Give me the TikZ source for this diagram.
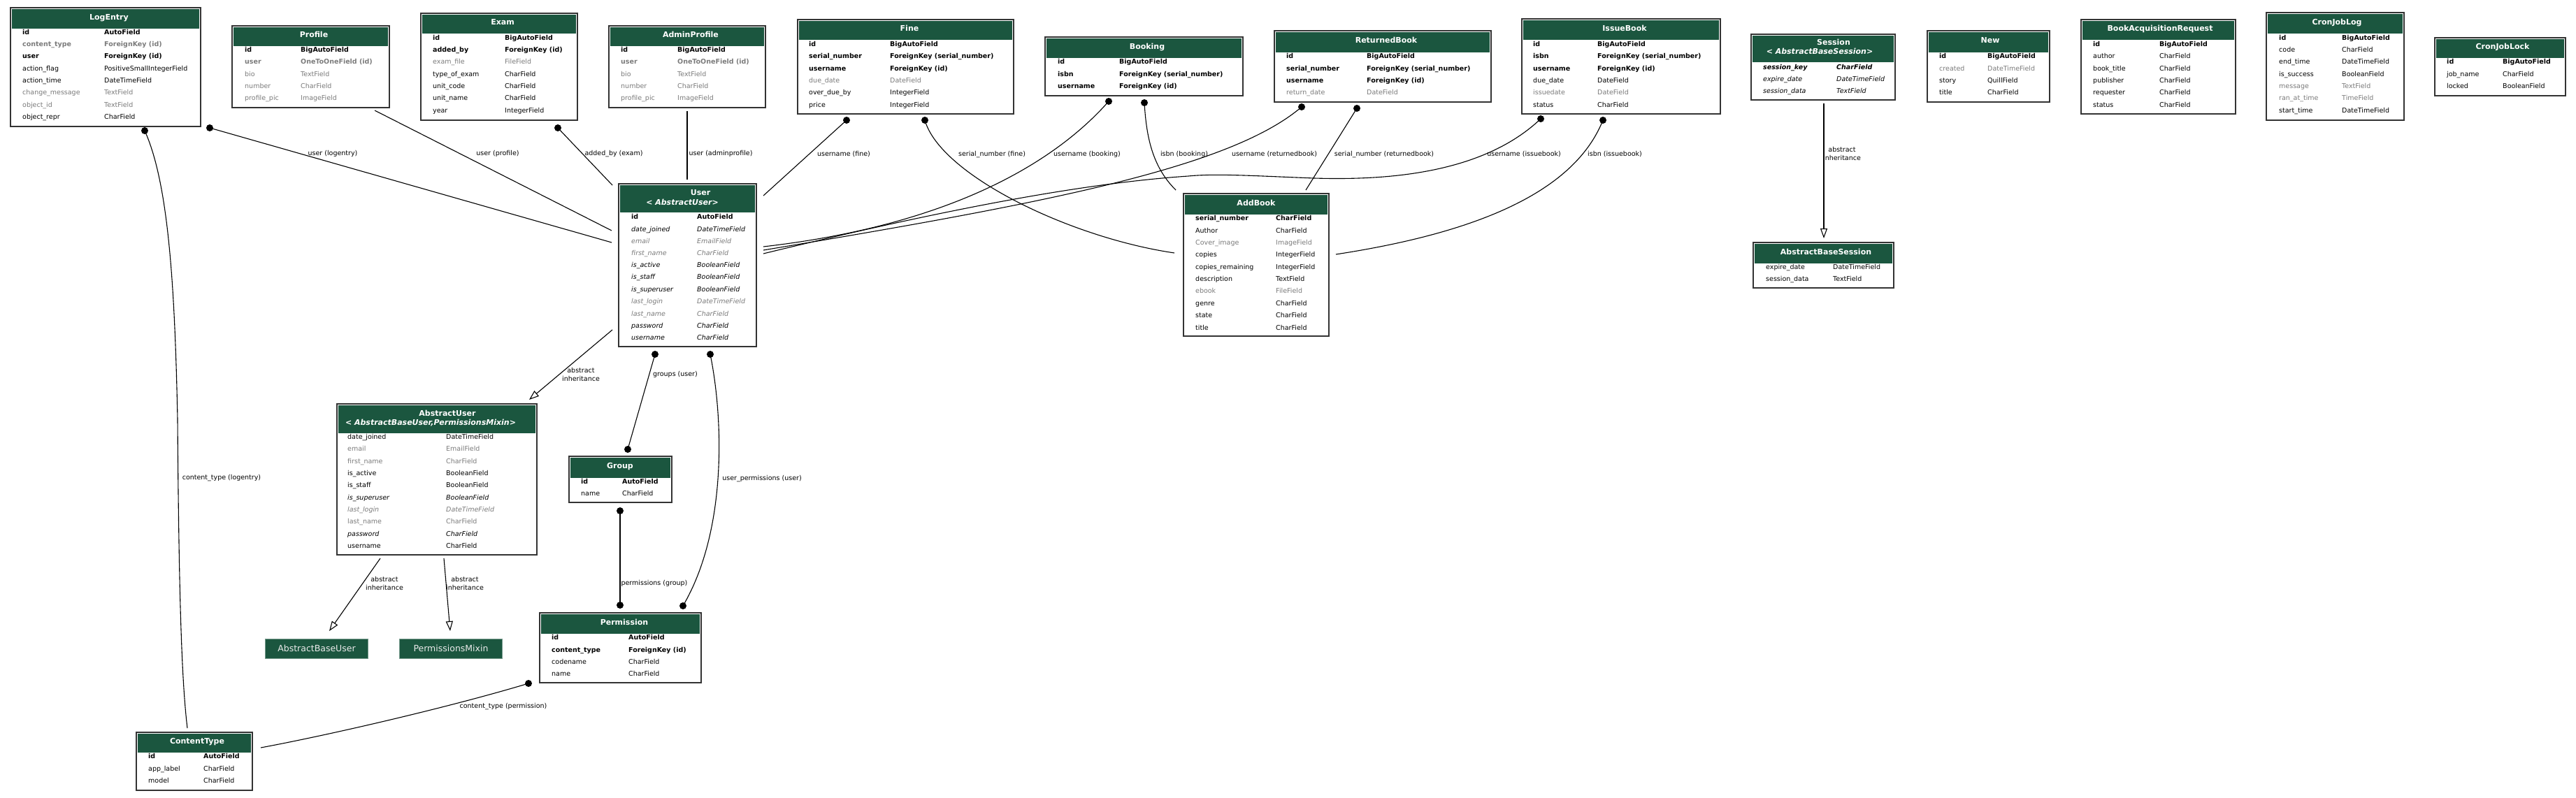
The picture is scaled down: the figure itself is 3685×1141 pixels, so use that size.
\documentclass[tikz,border=0pt]{standalone}
\usepackage{fontspec}
\setmainfont{DejaVu Sans}
\usetikzlibrary{arrows.meta,fit}
\definecolor{hdrgreen}{HTML}{1B563F}
\definecolor{fgray}{HTML}{7B7B7B}
\definecolor{bordc}{HTML}{333333}
\newcounter{rc}
\newcommand\fsz{\fontsize{9.5}{12}\selectfont}
\newcommand\tsz{\fontsize{11}{13}\selectfont}
\tikzset{
 tblbox/.style={draw=bordc, line width=1.8pt, fill=white, inner sep=0pt, rectangle},
 hdrfill/.style={fill=hdrgreen},
 fld/.style={anchor=mid west, inner sep=0pt, font=\fsz, text=black},
 fn/.style={},
 fb/.style={font=\fsz\bfseries},
 fg/.style={text=fgray},
 fbg/.style={font=\fsz\bfseries, text=fgray},
 fi/.style={font=\fsz\itshape},
 fig/.style={font=\fsz\itshape, text=fgray},
 fbi/.style={font=\fsz\bfseries\itshape},
 ttl/.style={anchor=mid, inner sep=0pt, font=\tsz\bfseries, text=white},
 ttli/.style={anchor=mid, inner sep=0pt, font=\tsz\bfseries\itshape, text=white},
 conn/.style={draw=black, line width=1.1pt},
 inh/.style={conn, -{Triangle[open, length=14pt, width=10pt, line width=1.1pt]}},
 elab/.style={inner sep=0pt, font=\fsz, align=center, anchor=center},
 absbox/.style={fill=hdrgreen, draw=hdrgreen!60!white, line width=0.8pt, minimum width=147pt, minimum height=28pt, inner sep=0pt, text=white!92!black, font=\fontsize{12.5}{14}\selectfont},
}
\newcommand\tbl[6]{%
 \node[tblbox, fit={(#2,#3) (#4,#5)}] (#1) {};
 \fill[hdrfill] (#2+1.6,#3+1.6) rectangle (#4-1.6,#6);}
\newcommand\fr[6]{%
 \stepcounter{rc}\edef\rcn{\arabic{rc}}%
 \node[fld,#4] (ra\rcn) at (#1,#3) {#5};
 \node[fld,#4] (rb\rcn) at (#2,#3) {#6};}
\newcommand\dotat[1]{\fill (#1) circle[radius=5pt];}
\begin{document}
\begin{tikzpicture}[x=1pt,y=-1pt]
\useasboundingbox (0,0) rectangle (3685,1141);
\fill[white] (0,0) rectangle (3685,1141);

% ---------- connector end points ----------
\coordinate (le1) at (300,183);  \coordinate (us1) at (875,347);
\coordinate (le2) at (207,187);  \coordinate (ct1) at (268,1042);
\coordinate (pr1) at (536,158);  \coordinate (us2) at (875,330);
\coordinate (ex1) at (798,183);  \coordinate (us3) at (876,265);
\coordinate (ap1) at (983,159);  \coordinate (us4) at (983,257);
\coordinate (fi1) at (1211,172); \coordinate (us5) at (1092,280);
\coordinate (fi2) at (1323,172); \coordinate (ab1) at (1680,362);
\coordinate (bo1) at (1586,145); \coordinate (us6) at (1092,353);
\coordinate (bo2) at (1637,147); \coordinate (ab2) at (1682,272);
\coordinate (rb1) at (1862,153); \coordinate (us7) at (1092,358);
\coordinate (rb2) at (1941,155); \coordinate (ab3) at (1868,272);
\coordinate (ib1) at (2204,170); \coordinate (us8) at (1092,363);
\coordinate (ib2) at (2293,172); \coordinate (ab4) at (1911,364);
\coordinate (us9) at (876,472);  \coordinate (au1) at (757,572);
\coordinate (us10) at (937,507); \coordinate (gr1) at (898,643);
\coordinate (us11) at (1016,507);\coordinate (pe1) at (977,867);
\coordinate (gr2) at (887,731);  \coordinate (pe2) at (887,866);
\coordinate (pe3) at (756,978);  \coordinate (ct2) at (373,1070);
\coordinate (au2) at (544,799);  \coordinate (abu1) at (471,903);
\coordinate (au3) at (635,799);  \coordinate (pm1) at (644,903);
\coordinate (se1) at (2609,148); \coordinate (abs1) at (2609,341);

% ---------- connectors ----------
\draw[conn] (le1) -- (us1);
\draw[conn] (le2) .. controls (240,260) and (250,400) .. (254,600) .. controls (256,860) and (260,975) .. (ct1);
\draw[conn] (pr1) -- (us2);
\draw[conn] (ex1) -- (us3);
\draw[conn] (ap1) -- (us4);
\draw[conn] (fi1) -- (us5);
\draw[conn] (fi2) .. controls (1345,250) and (1530,340) .. (ab1);
\draw[conn] (bo1) .. controls (1520,220) and (1380,320) .. (us6);
\draw[conn] (bo2) .. controls (1640,200) and (1650,240) .. (ab2);
\draw[conn] (rb1) .. controls (1760,240) and (1500,290) .. (us7);
\draw[conn] (rb2) -- (ab3);
\draw[conn] (ib1) .. controls (2120,250) and (1980,258) .. (1880,255) .. controls (1800,252) and (1740,248) .. (1700,252) .. controls (1550,262) and (1350,300) .. (us8);
\draw[conn] (ib2) .. controls (2250,280) and (2100,335) .. (ab4);
\draw[inh] (us9) -- (au1);
\draw[conn] (us10) -- (gr1);
\draw[conn] (us11) .. controls (1035,600) and (1040,760) .. (pe1);
\draw[conn] (gr2) -- (pe2);
\draw[conn] (pe3) .. controls (650,1010) and (480,1050) .. (ct2);
\draw[inh] (au2) -- (abu1);
\draw[inh] (au3) -- (pm1);
\draw[inh] (se1) -- (abs1);
\dotat{le1}\dotat{le2}\dotat{ex1}\dotat{fi1}\dotat{fi2}\dotat{bo1}\dotat{bo2}
\dotat{rb1}\dotat{rb2}\dotat{ib1}\dotat{ib2}\dotat{us10}\dotat{us11}\dotat{gr1}
\dotat{gr2}\dotat{pe1}\dotat{pe2}\dotat{pe3}

% ---------- connector labels ----------
\node[elab] (l1) at (476,220) {user (logentry)};
\node[elab] (l2) at (712,220) {user (profile)};
\node[elab] (l3) at (878,220) {added\_by (exam)};
\node[elab] (l4) at (1031,220) {user (adminprofile)};
\node[elab] (l5) at (1207,221) {username (fine)};
\node[elab] (l6) at (1419,221) {serial\_number (fine)};
\node[elab] (l7) at (1555,221) {username (booking)};
\node[elab] (l8) at (1694,221) {isbn (booking)};
\node[elab] (l9) at (1823,221) {username (returnedbook)};
\node[elab] (l10) at (1980,221) {serial\_number (returnedbook)};
\node[elab] (l11) at (2180,221) {username (issuebook)};
\node[elab] (l12) at (2310,221) {isbn (issuebook)};
\node[elab] (l13) at (2635,220) {abstract\\inheritance};
\node[elab] (l14) at (831,536) {abstract\\inheritance};
\node[elab] (l15) at (966,536) {groups (user)};
\node[elab] (l16) at (1090,685) {user\_permissions (user)};
\node[elab] (l17) at (317,684) {content\_type (logentry)};
\node[elab] (l18) at (550,835) {abstract\\inheritance};
\node[elab] (l19) at (665,835) {abstract\\inheritance};
\node[elab] (l20) at (936,835) {permissions (group)};
\node[elab] (l21) at (720,1011) {content\_type (permission)};

% ---------- LogEntry ----------
\tbl{logentry}{15}{11}{287}{181}{41}
\node[ttl] (tlogentry) at (156,26) {LogEntry};
\fr{32}{149}{47}{fb}{id}{AutoField}
\fr{32}{149}{64}{fbg}{content\_type}{ForeignKey (id)}
\fr{32}{149}{81}{fb}{user}{ForeignKey (id)}
\fr{32}{149}{99}{fn}{action\_flag}{PositiveSmallIntegerField}
\fr{32}{149}{116}{fn}{action\_time}{DateTimeField}
\fr{32}{149}{133}{fg}{change\_message}{TextField}
\fr{32}{149}{151}{fg}{object\_id}{TextField}
\fr{32}{149}{168}{fn}{object\_repr}{CharField}

% ---------- Profile ----------
\tbl{profile}{332}{37}{557}{154}{66}
\node[ttl] (tprofile) at (449,51) {Profile};
\fr{350}{430}{72}{fb}{id}{BigAutoField}
\fr{350}{430}{89}{fbg}{user}{OneToOneField (id)}
\fr{350}{430}{107}{fg}{bio}{TextField}
\fr{350}{430}{124}{fg}{number}{CharField}
\fr{350}{430}{141}{fg}{profile\_pic}{ImageField}

% ---------- Exam ----------
\tbl{exam}{602}{19}{826}{172}{48}
\node[ttl] (texam) at (719,33) {Exam};
\fr{619}{722}{55}{fb}{id}{BigAutoField}
\fr{619}{722}{72}{fb}{added\_by}{ForeignKey (id)}
\fr{619}{722}{89}{fg}{exam\_file}{FileField}
\fr{619}{722}{107}{fn}{type\_of\_exam}{CharField}
\fr{619}{722}{124}{fn}{unit\_code}{CharField}
\fr{619}{722}{141}{fn}{unit\_name}{CharField}
\fr{619}{722}{159}{fn}{year}{IntegerField}

% ---------- AdminProfile ----------
\tbl{adminprofile}{871}{37}{1095}{154}{66}
\node[ttl] (tadminprofile) at (988,51) {AdminProfile};
\fr{888}{969}{72}{fb}{id}{BigAutoField}
\fr{888}{969}{89}{fbg}{user}{OneToOneField (id)}
\fr{888}{969}{107}{fg}{bio}{TextField}
\fr{888}{969}{124}{fg}{number}{CharField}
\fr{888}{969}{141}{fg}{profile\_pic}{ImageField}

% ---------- Fine ----------
\tbl{fine}{1141}{28}{1450}{163}{57}
\node[ttl] (tfine) at (1301,42) {Fine};
\fr{1157}{1273}{64}{fb}{id}{BigAutoField}
\fr{1157}{1273}{81}{fb}{serial\_number}{ForeignKey (serial\_number)}
\fr{1157}{1273}{99}{fb}{username}{ForeignKey (id)}
\fr{1157}{1273}{116}{fg}{due\_date}{DateField}
\fr{1157}{1273}{133}{fn}{over\_due\_by}{IntegerField}
\fr{1157}{1273}{151}{fn}{price}{IntegerField}

% ---------- Booking ----------
\tbl{booking}{1495}{53}{1778}{137}{83}
\node[ttl] (tbooking) at (1641,68) {Booking};
\fr{1513}{1601}{89}{fb}{id}{BigAutoField}
\fr{1513}{1601}{107}{fb}{isbn}{ForeignKey (serial\_number)}
\fr{1513}{1601}{124}{fb}{username}{ForeignKey (id)}

% ---------- ReturnedBook ----------
\tbl{returnedbook}{1823}{44}{2133}{146}{75}
\node[ttl] (treturnedbook) at (1983,59) {ReturnedBook};
\fr{1840}{1955}{81}{fb}{id}{BigAutoField}
\fr{1840}{1955}{99}{fb}{serial\_number}{ForeignKey (serial\_number)}
\fr{1840}{1955}{116}{fb}{username}{ForeignKey (id)}
\fr{1840}{1955}{133}{fg}{return\_date}{DateField}

% ---------- IssueBook ----------
\tbl{issuebook}{2177}{27}{2461}{163}{57}
\node[ttl] (tissuebook) at (2324,42) {IssueBook};
\fr{2193}{2285}{64}{fb}{id}{BigAutoField}
\fr{2193}{2285}{81}{fb}{isbn}{ForeignKey (serial\_number)}
\fr{2193}{2285}{99}{fb}{username}{ForeignKey (id)}
\fr{2193}{2285}{116}{fn}{due\_date}{DateField}
\fr{2193}{2285}{133}{fg}{issuedate}{DateField}
\fr{2193}{2285}{151}{fn}{status}{CharField}

% ---------- Session ----------
\tbl{session}{2505}{49}{2711}{143}{89}
\node[ttl] (tsession) at (2623,62) {Session};
\node[ttli] (tsession2) at (2603,75) {< AbstractBaseSession>};
\fr{2522}{2627}{97}{fbi}{session\_key}{CharField}
\fr{2522}{2627}{114}{fi}{expire\_date}{DateTimeField}
\fr{2522}{2627}{131}{fi}{session\_data}{TextField}

% ---------- New ----------
\tbl{new}{2757}{44}{2932}{146}{75}
\node[ttl] (tnew) at (2847,59) {New};
\fr{2774}{2843}{81}{fb}{id}{BigAutoField}
\fr{2774}{2843}{99}{fg}{created}{DateTimeField}
\fr{2774}{2843}{116}{fn}{story}{QuillField}
\fr{2774}{2843}{133}{fn}{title}{CharField}

% ---------- BookAcquisitionRequest ----------
\tbl{bookacq}{2977}{28}{3198}{163}{57}
\node[ttl] (tbookacq) at (3090,42) {BookAcquisitionRequest};
\fr{2994}{3089}{64}{fb}{id}{BigAutoField}
\fr{2994}{3089}{81}{fn}{author}{CharField}
\fr{2994}{3089}{99}{fn}{book\_title}{CharField}
\fr{2994}{3089}{116}{fn}{publisher}{CharField}
\fr{2994}{3089}{133}{fn}{requester}{CharField}
\fr{2994}{3089}{151}{fn}{status}{CharField}

% ---------- CronJobLog ----------
\tbl{cronjoblog}{3242}{18}{3439}{172}{48}
\node[ttl] (tcronjoblog) at (3343,33) {CronJobLog};
\fr{3260}{3350}{55}{fb}{id}{BigAutoField}
\fr{3260}{3350}{72}{fn}{code}{CharField}
\fr{3260}{3350}{89}{fn}{end\_time}{DateTimeField}
\fr{3260}{3350}{107}{fn}{is\_success}{BooleanField}
\fr{3260}{3350}{124}{fg}{message}{TextField}
\fr{3260}{3350}{141}{fg}{ran\_at\_time}{TimeField}
\fr{3260}{3350}{159}{fn}{start\_time}{DateTimeField}

% ---------- CronJobLock ----------
\tbl{cronjoblock}{3483}{54}{3670}{137}{83}
\node[ttl] (tcronjoblock) at (3580,68) {CronJobLock};
\fr{3500}{3580}{89}{fb}{id}{BigAutoField}
\fr{3500}{3580}{107}{fn}{job\_name}{CharField}
\fr{3500}{3580}{124}{fn}{locked}{BooleanField}

% ---------- User ----------
\tbl{user}{885}{263}{1082}{496}{304}
\node[ttl] (tuser) at (1002,277) {User};
\node[ttli] (tuser2) at (976,291) {< AbstractUser>};
\fr{903}{997}{311}{fb}{id}{AutoField}
\fr{903}{997}{329}{fi}{date\_joined}{DateTimeField}
\fr{903}{997}{346}{fig}{email}{EmailField}
\fr{903}{997}{363}{fig}{first\_name}{CharField}
\fr{903}{997}{380}{fi}{is\_active}{BooleanField}
\fr{903}{997}{397}{fi}{is\_staff}{BooleanField}
\fr{903}{997}{415}{fi}{is\_superuser}{BooleanField}
\fr{903}{997}{432}{fig}{last\_login}{DateTimeField}
\fr{903}{997}{450}{fig}{last\_name}{CharField}
\fr{903}{997}{467}{fi}{password}{CharField}
\fr{903}{997}{484}{fi}{username}{CharField}

% ---------- AddBook ----------
\tbl{addbook}{1693}{277}{1901}{481}{307}
\node[ttl] (taddbook) at (1797,292) {AddBook};
\fr{1710}{1825}{313}{fb}{serial\_number}{CharField}
\fr{1710}{1825}{331}{fn}{Author}{CharField}
\fr{1710}{1825}{348}{fg}{Cover\_image}{ImageField}
\fr{1710}{1825}{365}{fn}{copies}{IntegerField}
\fr{1710}{1825}{383}{fn}{copies\_remaining}{IntegerField}
\fr{1710}{1825}{400}{fn}{description}{TextField}
\fr{1710}{1825}{417}{fg}{ebook}{FileField}
\fr{1710}{1825}{435}{fn}{genre}{CharField}
\fr{1710}{1825}{452}{fn}{state}{CharField}
\fr{1710}{1825}{470}{fn}{title}{CharField}

% ---------- AbstractUser ----------
\tbl{abstractuser}{482}{578}{768}{794}{620}
\node[ttl] (tabstractuser) at (640,593) {AbstractUser};
\node[ttli] (tabstractuser2) at (616,606) {< AbstractBaseUser,PermissionsMixin>};
\fr{497}{638}{626}{fn}{date\_joined}{DateTimeField}
\fr{497}{638}{643}{fg}{email}{EmailField}
\fr{497}{638}{661}{fg}{first\_name}{CharField}
\fr{497}{638}{678}{fn}{is\_active}{BooleanField}
\fr{497}{638}{695}{fn}{is\_staff}{BooleanField}
\fr{497}{638}{713}{fi}{is\_superuser}{BooleanField}
\fr{497}{638}{730}{fig}{last\_login}{DateTimeField}
\fr{497}{638}{747}{fg}{last\_name}{CharField}
\fr{497}{638}{765}{fi}{password}{CharField}
\fr{497}{638}{782}{fn}{username}{CharField}

% ---------- Group ----------
\tbl{group}{814}{653}{961}{719}{684}
\node[ttl] (tgroup) at (887,668) {Group};
\fr{831}{890}{690}{fb}{id}{AutoField}
\fr{831}{890}{707}{fn}{name}{CharField}

% ---------- Permission ----------
\tbl{permission}{772}{877}{1003}{977}{907}
\node[ttl] (tpermission) at (893,892) {Permission};
\fr{789}{899}{913}{fb}{id}{AutoField}
\fr{789}{899}{931}{fb}{content\_type}{ForeignKey (id)}
\fr{789}{899}{948}{fn}{codename}{CharField}
\fr{789}{899}{965}{fn}{name}{CharField}

% ---------- ContentType ----------
\tbl{contenttype}{195}{1048}{361}{1131}{1077}
\node[ttl] (tcontenttype) at (282,1062) {ContentType};
\fr{212}{291}{1083}{fb}{id}{AutoField}
\fr{212}{291}{1101}{fn}{app\_label}{CharField}
\fr{212}{291}{1118}{fn}{model}{CharField}

% ---------- AbstractBaseSession ----------
\tbl{abstractbasesession}{2508}{347}{2709}{412}{377}
\node[ttl] (tabstractbasesession) at (2612,362) {AbstractBaseSession};
\fr{2526}{2622}{383}{fn}{expire\_date}{DateTimeField}
\fr{2526}{2622}{400}{fn}{session\_data}{TextField}

% ---------- abstract parents ----------
\node[absbox] (abstractbaseuser) at (453,928) {AbstractBaseUser};
\node[absbox] (permissionsmixin) at (645,928) {PermissionsMixin};
\end{tikzpicture}
\end{document}
